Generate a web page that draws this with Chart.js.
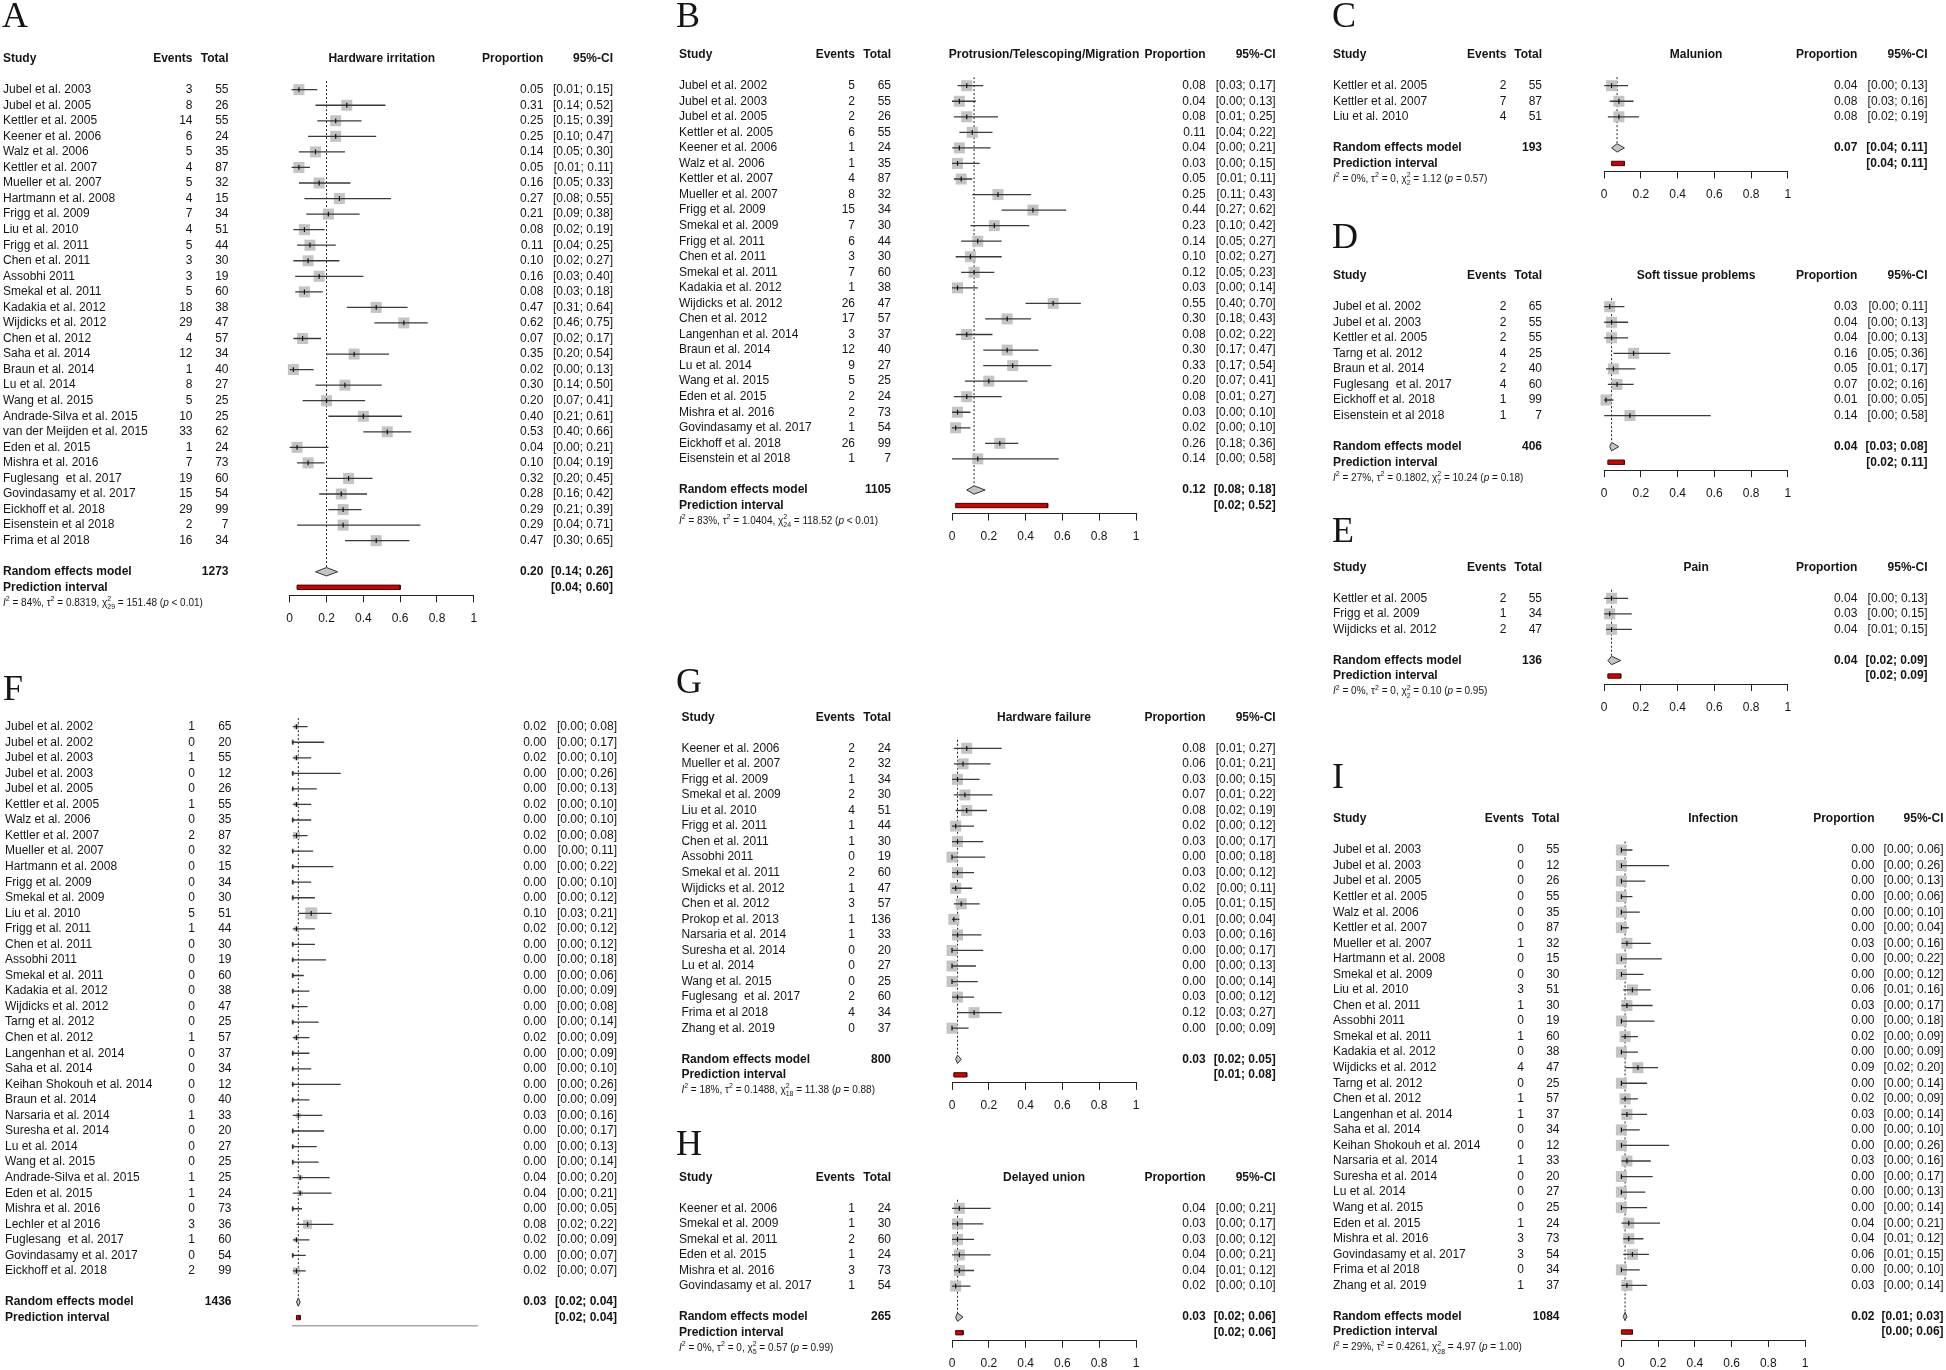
<!DOCTYPE html>
<html><head><meta charset="utf-8">
<script src="https://cdn.jsdelivr.net/npm/chart.js@4.4.1/dist/chart.umd.min.js"></script>
<style>
html,body{margin:0;padding:0;background:#fff;}
#wrap{position:relative;width:1946px;height:1370px;overflow:hidden;background:#fff;}
#wrap canvas{position:absolute;left:0;top:0;width:1946px;height:1370px;}
</style></head><body><div id="wrap"></div>
<script>
// ================= DATA =================
const xTicks = [0, 0.2, 0.4, 0.6, 0.8, 1];

// A: Hardware irritation
const aStudy = ['Jubel et al. 2003','Jubel et al. 2005','Kettler et al. 2005','Keener et al. 2006','Walz et al. 2006','Kettler et al. 2007','Mueller et al. 2007','Hartmann et al. 2008','Frigg et al. 2009','Liu et al. 2010','Frigg et al. 2011','Chen et al. 2011','Assobhi 2011','Smekal et al. 2011','Kadakia et al. 2012','Wijdicks et al. 2012','Chen et al. 2012','Saha et al. 2014','Braun et al. 2014','Lu et al. 2014','Wang et al. 2015','Andrade-Silva et al. 2015','van der Meijden et al. 2015','Eden et al. 2015','Mishra et al. 2016','Fuglesang  et al. 2017','Govindasamy et al. 2017','Eickhoff et al. 2018','Eisenstein et al 2018','Frima et al 2018'];
const aEvents = [3,8,14,6,5,4,5,4,7,4,5,3,3,5,18,29,4,12,1,8,5,10,33,1,7,19,15,29,2,16];
const aTotal = [55,26,55,24,35,87,32,15,34,51,44,30,19,60,38,47,57,34,40,27,25,25,62,24,73,60,54,99,7,34];
const aProp = [0.05,0.31,0.25,0.25,0.14,0.05,0.16,0.27,0.21,0.08,0.11,0.10,0.16,0.08,0.47,0.62,0.07,0.35,0.02,0.30,0.20,0.40,0.53,0.04,0.10,0.32,0.28,0.29,0.29,0.47];
const aLower = [0.01,0.14,0.15,0.10,0.05,0.01,0.05,0.08,0.09,0.02,0.04,0.02,0.03,0.03,0.31,0.46,0.02,0.20,0.00,0.14,0.07,0.21,0.40,0.00,0.04,0.20,0.16,0.21,0.04,0.30];
const aUpper = [0.15,0.52,0.39,0.47,0.30,0.11,0.33,0.55,0.38,0.19,0.25,0.27,0.40,0.18,0.64,0.75,0.17,0.54,0.13,0.50,0.41,0.61,0.66,0.21,0.19,0.45,0.42,0.39,0.71,0.65];
const aRandom = [0.20,0.14,0.26];
const aPredict = [0.04,0.60];
const aN = 1273;
const aHet = ['84%','0.8319','29','151.48','< 0.01'];

// B: Protrusion/Telescoping/Migration
const bStudy = ['Jubel et al. 2002','Jubel et al. 2003','Jubel et al. 2005','Kettler et al. 2005','Keener et al. 2006','Walz et al. 2006','Kettler et al. 2007','Mueller et al. 2007','Frigg et al. 2009','Smekal et al. 2009','Frigg et al. 2011','Chen et al. 2011','Smekal et al. 2011','Kadakia et al. 2012','Wijdicks et al. 2012','Chen et al. 2012','Langenhan et al. 2014','Braun et al. 2014','Lu et al. 2014','Wang et al. 2015','Eden et al. 2015','Mishra et al. 2016','Govindasamy et al. 2017','Eickhoff et al. 2018','Eisenstein et al 2018'];
const bEvents = [5,2,2,6,1,1,4,8,15,7,6,3,7,1,26,17,3,12,9,5,2,2,1,26,1];
const bTotal = [65,55,26,55,24,35,87,32,34,30,44,30,60,38,47,57,37,40,27,25,24,73,54,99,7];
const bProp = [0.08,0.04,0.08,0.11,0.04,0.03,0.05,0.25,0.44,0.23,0.14,0.10,0.12,0.03,0.55,0.30,0.08,0.30,0.33,0.20,0.08,0.03,0.02,0.26,0.14];
const bLower = [0.03,0.00,0.01,0.04,0.00,0.00,0.01,0.11,0.27,0.10,0.05,0.02,0.05,0.00,0.40,0.18,0.02,0.17,0.17,0.07,0.01,0.00,0.00,0.18,0.00];
const bUpper = [0.17,0.13,0.25,0.22,0.21,0.15,0.11,0.43,0.62,0.42,0.27,0.27,0.23,0.14,0.70,0.43,0.22,0.47,0.54,0.41,0.27,0.10,0.10,0.36,0.58];
const bRandom = [0.12,0.08,0.18];
const bPredict = [0.02,0.52];
const bN = 1105;
const bHet = ['83%','1.0404','24','118.52','< 0.01'];

// C: Malunion
const cStudy = ['Kettler et al. 2005','Kettler et al. 2007','Liu et al. 2010'];
const cEvents = [2,7,4];
const cTotal = [55,87,51];
const cProp = [0.04,0.08,0.08];
const cLower = [0.00,0.03,0.02];
const cUpper = [0.13,0.16,0.19];
const cRandom = [0.07,0.04,0.11];
const cPredict = [0.04,0.11];
const cN = 193;
const cHet = ['0%','0','2','1.12','= 0.57'];

// D: Soft tissue problems
const dStudy = ['Jubel et al. 2002','Jubel et al. 2003','Kettler et al. 2005','Tarng et al. 2012','Braun et al. 2014','Fuglesang  et al. 2017','Eickhoff et al. 2018','Eisenstein et al 2018'];
const dEvents = [2,2,2,4,2,4,1,1];
const dTotal = [65,55,55,25,40,60,99,7];
const dProp = [0.03,0.04,0.04,0.16,0.05,0.07,0.01,0.14];
const dLower = [0.00,0.00,0.00,0.05,0.01,0.02,0.00,0.00];
const dUpper = [0.11,0.13,0.13,0.36,0.17,0.16,0.05,0.58];
const dRandom = [0.04,0.03,0.08];
const dPredict = [0.02,0.11];
const dN = 406;
const dHet = ['27%','0.1802','7','10.24','= 0.18'];

// E: Pain
const eStudy = ['Kettler et al. 2005','Frigg et al. 2009','Wijdicks et al. 2012'];
const eEvents = [2,1,2];
const eTotal = [55,34,47];
const eProp = [0.04,0.03,0.04];
const eLower = [0.00,0.00,0.01];
const eUpper = [0.13,0.15,0.15];
const eRandom = [0.04,0.02,0.09];
const ePredict = [0.02,0.09];
const eN = 136;
const eHet = ['0%','0','2','0.10','= 0.95'];

// F: (untitled)
const fStudy = ['Jubel et al. 2002','Jubel et al. 2002','Jubel et al. 2003','Jubel et al. 2003','Jubel et al. 2005','Kettler et al. 2005','Walz et al. 2006','Kettler et al. 2007','Mueller et al. 2007','Hartmann et al. 2008','Frigg et al. 2009','Smekal et al. 2009','Liu et al. 2010','Frigg et al. 2011','Chen et al. 2011','Assobhi 2011','Smekal et al. 2011','Kadakia et al. 2012','Wijdicks et al. 2012','Tarng et al. 2012','Chen et al. 2012','Langenhan et al. 2014','Saha et al. 2014','Keihan Shokouh et al. 2014','Braun et al. 2014','Narsaria et al. 2014','Suresha et al. 2014','Lu et al. 2014','Wang et al. 2015','Andrade-Silva et al. 2015','Eden et al. 2015','Mishra et al. 2016','Lechler et al 2016','Fuglesang  et al. 2017','Govindasamy et al. 2017','Eickhoff et al. 2018'];
const fEvents = [1,0,1,0,0,1,0,2,0,0,0,0,5,1,0,0,0,0,0,0,1,0,0,0,0,1,0,0,0,1,1,0,3,1,0,2];
const fTotal = [65,20,55,12,26,55,35,87,32,15,34,30,51,44,30,19,60,38,47,25,57,37,34,12,40,33,20,27,25,25,24,73,36,60,54,99];
const fProp = [0.02,0.00,0.02,0.00,0.00,0.02,0.00,0.02,0.00,0.00,0.00,0.00,0.10,0.02,0.00,0.00,0.00,0.00,0.00,0.00,0.02,0.00,0.00,0.00,0.00,0.03,0.00,0.00,0.00,0.04,0.04,0.00,0.08,0.02,0.00,0.02];
const fLower = [0,0,0,0,0,0,0,0,0,0,0,0,0.03,0,0,0,0,0,0,0,0,0,0,0,0,0,0,0,0,0,0,0,0.02,0,0,0];
const fUpper = [0.08,0.17,0.10,0.26,0.13,0.10,0.10,0.08,0.11,0.22,0.10,0.12,0.21,0.12,0.12,0.18,0.06,0.09,0.08,0.14,0.09,0.09,0.10,0.26,0.09,0.16,0.17,0.13,0.14,0.20,0.21,0.05,0.22,0.09,0.07,0.07];
const fRandom = [0.03,0.02,0.04];
const fPredict = [0.02,0.04];
const fN = 1436;

// G: Hardware failure
const gStudy = ['Keener et al. 2006','Mueller et al. 2007','Frigg et al. 2009','Smekal et al. 2009','Liu et al. 2010','Frigg et al. 2011','Chen et al. 2011','Assobhi 2011','Smekal et al. 2011','Wijdicks et al. 2012','Chen et al. 2012','Prokop et al. 2013','Narsaria et al. 2014','Suresha et al. 2014','Lu et al. 2014','Wang et al. 2015','Fuglesang  et al. 2017','Frima et al 2018','Zhang et al. 2019'];
const gEvents = [2,2,1,2,4,1,1,0,2,1,3,1,1,0,0,0,2,4,0];
const gTotal = [24,32,34,30,51,44,30,19,60,47,57,136,33,20,27,25,60,34,37];
const gProp = [0.08,0.06,0.03,0.07,0.08,0.02,0.03,0.00,0.03,0.02,0.05,0.01,0.03,0.00,0.00,0.00,0.03,0.12,0.00];
const gLower = [0.01,0.01,0.00,0.01,0.02,0.00,0.00,0.00,0.00,0.00,0.01,0.00,0.00,0.00,0.00,0.00,0.00,0.03,0.00];
const gUpper = [0.27,0.21,0.15,0.22,0.19,0.12,0.17,0.18,0.12,0.11,0.15,0.04,0.16,0.17,0.13,0.14,0.12,0.27,0.09];
const gRandom = [0.03,0.02,0.05];
const gPredict = [0.01,0.08];
const gN = 800;
const gHet = ['18%','0.1488','18','11.38','= 0.88'];

// H: Delayed union
const hStudy = ['Keener et al. 2006','Smekal et al. 2009','Smekal et al. 2011','Eden et al. 2015','Mishra et al. 2016','Govindasamy et al. 2017'];
const hEvents = [1,1,2,1,3,1];
const hTotal = [24,30,60,24,73,54];
const hProp = [0.04,0.03,0.03,0.04,0.04,0.02];
const hLower = [0.00,0.00,0.00,0.00,0.01,0.00];
const hUpper = [0.21,0.17,0.12,0.21,0.12,0.10];
const hRandom = [0.03,0.02,0.06];
const hPredict = [0.02,0.06];
const hN = 265;
const hHet = ['0%','0','5','0.57','= 0.99'];

// I: Infection
const iStudy = ['Jubel et al. 2003','Jubel et al. 2003','Jubel et al. 2005','Kettler et al. 2005','Walz et al. 2006','Kettler et al. 2007','Mueller et al. 2007','Hartmann et al. 2008','Smekal et al. 2009','Liu et al. 2010','Chen et al. 2011','Assobhi 2011','Smekal et al. 2011','Kadakia et al. 2012','Wijdicks et al. 2012','Tarng et al. 2012','Chen et al. 2012','Langenhan et al. 2014','Saha et al. 2014','Keihan Shokouh et al. 2014','Narsaria et al. 2014','Suresha et al. 2014','Lu et al. 2014','Wang et al. 2015','Eden et al. 2015','Mishra et al. 2016','Govindasamy et al. 2017','Frima et al 2018','Zhang et al. 2019'];
const iEvents = [0,0,0,0,0,0,1,0,0,3,1,0,1,0,4,0,1,1,0,0,1,0,0,0,1,3,3,0,1];
const iTotal = [55,12,26,55,35,87,32,15,30,51,30,19,60,38,47,25,57,37,34,12,33,20,27,25,24,73,54,34,37];
const iProp = [0.00,0.00,0.00,0.00,0.00,0.00,0.03,0.00,0.00,0.06,0.03,0.00,0.02,0.00,0.09,0.00,0.02,0.03,0.00,0.00,0.03,0.00,0.00,0.00,0.04,0.04,0.06,0.00,0.03];
const iLower = [0,0,0,0,0,0,0,0,0,0.01,0,0,0,0,0.02,0,0,0,0,0,0,0,0,0,0,0.01,0.01,0,0];
const iUpper = [0.06,0.26,0.13,0.06,0.10,0.04,0.16,0.22,0.12,0.16,0.17,0.18,0.09,0.09,0.20,0.14,0.09,0.14,0.10,0.26,0.16,0.17,0.13,0.14,0.21,0.12,0.15,0.10,0.14];
const iRandom = [0.02,0.01,0.03];
const iPredict = [0.00,0.06];
const iN = 1084;
const iHet = ['29%','0.4261','28','4.97','= 1.00'];

// ================= LAYOUT =================
const W = 1946, H = 1370, PITCH = 15.55;
const FONT = '"Liberation Sans", Arial, Helvetica, sans-serif';
const SERIF = '"Liberation Serif", "Times New Roman", serif';
Chart.defaults.font.family = FONT;

const colsL = {studyL:3, evR:192.5, totR:228.5, propR:543.4, ciR:613, ax0:289.7, ax1:473.8};
const colsM = {studyL:679, evR:855, totR:891, propR:1205.7, ciR:1275.7, ax0:952, ax1:1136};
const colsR = {studyL:1333, evR:1506.4, totR:1542, propR:1857.3, ciR:1927.6, ax0:1604.2, ax1:1787.9};

const panels = [
  {letter:'A', title:'Hardware irritation', study:aStudy, events:aEvents, total:aTotal, prop:aProp, lower:aLower, upper:aUpper, random:aRandom, predict:aPredict, n:aN, het:aHet,
   box:Object.assign({letterX:2, letterY:27, row0:89.7}, colsL)},
  {letter:'B', title:'Protrusion/Telescoping/Migration', study:bStudy, events:bEvents, total:bTotal, prop:bProp, lower:bLower, upper:bUpper, random:bRandom, predict:bPredict, n:bN, het:bHet,
   box:Object.assign({letterX:676, letterY:26.7, row0:85.7}, colsM)},
  {letter:'C', title:'Malunion', study:cStudy, events:cEvents, total:cTotal, prop:cProp, lower:cLower, upper:cUpper, random:cRandom, predict:cPredict, n:cN, het:cHet,
   box:Object.assign({letterX:1332, letterY:26.7, row0:85.7}, colsR)},
  {letter:'D', title:'Soft tissue problems', study:dStudy, events:dEvents, total:dTotal, prop:dProp, lower:dLower, upper:dUpper, random:dRandom, predict:dPredict, n:dN, het:dHet,
   box:Object.assign({letterX:1332, letterY:248.3, row0:306.7}, colsR)},
  {letter:'E', title:'Pain', study:eStudy, events:eEvents, total:eTotal, prop:eProp, lower:eLower, upper:eUpper, random:eRandom, predict:ePredict, n:eN, het:eHet,
   box:Object.assign({letterX:1332, letterY:541.7, row0:598.3}, colsR)},
  {letter:'F', title:null, study:fStudy, events:fEvents, total:fTotal, prop:fProp, lower:fLower, upper:fUpper, random:fRandom, predict:fPredict, n:fN, het:null, greyAxis:true,
   box:{letterX:3, letterY:700, row0:726.7, studyL:5, evR:195, totR:231.5, propR:546.5, ciR:617, ax0:292.8, ax1:477.2}},
  {letter:'G', title:'Hardware failure', study:gStudy, events:gEvents, total:gTotal, prop:gProp, lower:gLower, upper:gUpper, random:gRandom, predict:gPredict, n:gN, het:gHet,
   box:Object.assign({letterX:676, letterY:693, row0:748.3}, colsM, {studyL:681.4})},
  {letter:'H', title:'Delayed union', study:hStudy, events:hEvents, total:hTotal, prop:hProp, lower:hLower, upper:hUpper, random:hRandom, predict:hPredict, n:hN, het:hHet,
   box:Object.assign({letterX:676, letterY:1155, row0:1208.3}, colsM)},
  {letter:'I', title:'Infection', study:iStudy, events:iEvents, total:iTotal, prop:iProp, lower:iLower, upper:iUpper, random:iRandom, predict:iPredict, n:iN, het:iHet,
   box:{letterX:1332, letterY:788.3, row0:850, studyL:1333, evR:1524, totR:1559.5, propR:1874.5, ciR:1943.6, ax0:1621.4, ax1:1805}}
];

const f2 = v => v.toFixed(2);
const ciTxt = (l, u) => '[' + f2(l) + '; ' + f2(u) + ']';
function squareSide(P, i){
  if (P.greyAxis) return [3,5,7,9,10,12][Math.min(P.events[i],5)];
  return 11;
}

function drawHet(ctx, x, y, h){
  const base = '10px ' + FONT, ital = 'italic 10px ' + FONT, small = '7px ' + FONT;
  ctx.textAlign = 'left'; ctx.textBaseline = 'middle';
  const seg = (t, f, dy) => { ctx.font = f; ctx.fillText(t, x, y + (dy||0)); x += ctx.measureText(t).width; };
  seg('I', ital); seg('2', small, -4);
  seg(' = ' + h[0] + ', \u03C4', base); seg('2', small, -4);
  seg(' = ' + h[1] + ', \u03C7', base);
  ctx.font = small;
  const w1 = ctx.measureText('2').width, w2 = ctx.measureText(h[2]).width;
  ctx.fillText('2', x, y - 4); ctx.fillText(h[2], x, y + 4); x += Math.max(w1, w2);
  seg(' = ' + h[3] + ' (', base); seg('p', ital); seg(' ' + h[4] + ')', base);
}

function textPlugin(P){
  return {id:'forestText', afterDraw(chart){
    const ctx = chart.ctx, ys = chart.scales.y, L = P.box, n = P.study.length;
    const Y = r => ys.getPixelForValue(r);
    ctx.save();
    ctx.fillStyle = '#151515';
    ctx.textBaseline = 'alphabetic'; ctx.textAlign = 'left';
    ctx.font = '36px ' + SERIF;
    ctx.fillText(P.letter, L.letterX, L.letterY);
    ctx.textBaseline = 'middle';
    const put = (t, x, y, align, bold) => { ctx.font = (bold ? 'bold ' : '') + '12px ' + FONT; ctx.textAlign = align; ctx.fillText(t, x, y); };
    if (P.title) {
      const hy = Y(-2);
      put('Study', L.studyL, hy, 'left', true);
      put('Events', L.evR, hy, 'right', true);
      put('Total', L.totR, hy, 'right', true);
      put(P.title, (L.ax0 + L.ax1) / 2, hy, 'center', true);
      put('Proportion', L.propR, hy, 'right', true);
      put('95%-CI', L.ciR, hy, 'right', true);
    }
    for (let i = 0; i < n; i++) {
      const y = Y(i);
      put(P.study[i], L.studyL, y, 'left');
      put(String(P.events[i]), L.evR, y, 'right');
      put(String(P.total[i]), L.totR, y, 'right');
      put(f2(P.prop[i]), L.propR, y, 'right');
      put(ciTxt(P.lower[i], P.upper[i]), L.ciR, y, 'right');
    }
    const ry = Y(n + 1), py = Y(n + 2);
    put('Random effects model', L.studyL, ry, 'left', true);
    put(String(P.n), L.totR, ry, 'right', true);
    put(f2(P.random[0]), L.propR, ry, 'right', true);
    put(ciTxt(P.random[1], P.random[2]), L.ciR, ry, 'right', true);
    put('Prediction interval', L.studyL, py, 'left', true);
    put(ciTxt(P.predict[0], P.predict[1]), L.ciR, py, 'right', true);
    if (P.het) drawHet(ctx, L.studyL, Y(n + 3), P.het);
    ctx.restore();
  }};
}

const wrap = document.getElementById('wrap');
function buildPanel(P){
  const L = P.box, n = P.study.length;
  const reRow = n + 1, piRow = n + 2;
  const axisY = L.row0 + piRow * PITCH + 8;
  const AXH = 44;
  const yMin = -0.9;
  const yMax = (axisY - L.row0) / PITCH;
  const topPad = L.row0 + yMin * PITCH;
  const idx = P.study.map((_, i) => i);
  const ciData = [];
  idx.forEach(i => { ciData.push({x:P.lower[i], y:i}, {x:P.upper[i], y:i}, {x:null, y:null}); });
  const est = idx.map(i => ({x:P.prop[i], y:i}));
  const sizes = idx.map(i => squareSide(P, i) / Math.SQRT2);
  const r = P.random, pi = P.predict;
  const dh = 0.27, ph = 0.14;
  const diamond = [{x:r[1], y:reRow}, {x:r[0], y:reRow - dh}, {x:r[2], y:reRow}, {x:r[0], y:reRow + dh}, {x:r[1], y:reRow}];
  const piRect = [{x:pi[0], y:piRow - ph}, {x:pi[1], y:piRow - ph}, {x:pi[1], y:piRow + ph}, {x:pi[0], y:piRow + ph}, {x:pi[0], y:piRow - ph}];
  const datasets = [
    {data:[{x:r[0], y:-0.55}, {x:r[0], y:reRow - dh}], showLine:true, borderColor:'#222', borderWidth:1, borderDash:[2,2], pointRadius:0, order:6, clip:false},
    {data:est, showLine:false, pointStyle:'rect', pointRadius:sizes, pointBackgroundColor:'#c4c4c4', pointBorderWidth:0, pointBorderColor:'#c4c4c4', order:5, clip:false},
    {data:ciData, showLine:true, borderColor:'#3a3a3a', borderWidth:1.3, pointRadius:0, spanGaps:false, order:4, clip:false},
    {data:est, showLine:false, pointStyle:'line', pointRotation:90, pointRadius:2.4, pointBorderColor:'#111', pointBorderWidth:1.2, order:3, clip:false},
    {data:diamond, showLine:true, fill:'shape', backgroundColor:'#c4c4c4', borderColor:'#333', borderWidth:1, pointRadius:0, order:2, clip:false},
    {data:piRect, showLine:true, fill:'shape', backgroundColor:'#d40000', borderColor:'#3a0a0a', borderWidth:1, pointRadius:0, order:1, clip:false}
  ];
  const canvas = document.createElement('canvas');
  canvas.width = W; canvas.height = H;
  wrap.appendChild(canvas);
  new Chart(canvas, {
    type:'scatter',
    data:{datasets},
    options:{
      responsive:false, maintainAspectRatio:false, animation:false, devicePixelRatio:1, events:[],
      layout:{padding:{left:L.ax0, right:W - L.ax1, top:topPad, bottom:H - axisY - AXH}},
      plugins:{legend:{display:false}, tooltip:{enabled:false}, title:{display:false}},
      scales:{
        x:{type:'linear', position:'bottom', min:0, max:1, bounds:'data',
           afterBuildTicks: s => { s.ticks = xTicks.map(v => ({value:v})); },
           afterFit: s => { s.height = AXH; },
           border:{display:true, color:P.greyAxis ? '#a8a8a8' : '#222', width:P.greyAxis ? 1.6 : 1},
           grid:{display:true, drawOnChartArea:false, drawTicks:!P.greyAxis, tickLength:7, tickColor:'#222', tickWidth:1, color:'#222'},
           ticks:{display:!P.greyAxis, padding:9, color:'#151515', font:{family:FONT, size:12}, maxRotation:0, minRotation:0, autoSkip:false,
                  callback: v => (v === 0 || v === 1) ? String(v) : (+v).toFixed(1)}
        },
        y:{type:'linear', display:false, reverse:true, min:yMin, max:yMax, bounds:'data'}
      }
    },
    plugins:[textPlugin(P)]
  });
}
panels.forEach(buildPanel);
</script>
</body></html>
